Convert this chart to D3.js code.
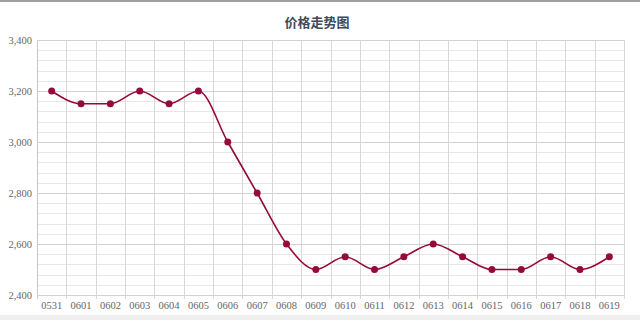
<!DOCTYPE html>
<html>
<head>
<meta charset="utf-8">
<script src="https://cdn.jsdelivr.net/npm/d3@7"></script>
<style>
body { margin: 0; background: #fff; }
svg { display: block; }
</style>
</head>
<body>
<div class="canvas"></div>
<script>
// data
const dates = ['0531','0601','0602','0603','0604','0605','0606','0607','0608','0609',
  '0610','0611','0612','0613','0614','0615','0616','0617','0618','0619'];
const prices = [3200,3150,3150,3200,3150,3200,3000,2800,2600,2500,
  2550,2500,2550,2600,2550,2500,2500,2550,2500,2550];
const yTicks = [2400,2600,2800,3000,3200,3400];
const title = '价格走势图';

const W = 640, H = 320;
const margin = {top: 40, right: 16, bottom: 25, left: 37};
const graphWidth = W - margin.left - margin.right;
const graphHeight = H - margin.top - margin.bottom;

const svg = d3.select('.canvas')
  .append('svg')
  .attr('width', W)
  .attr('height', H);

// frame bits
svg.append('rect').attr('x',0).attr('y',0).attr('width',W).attr('height',2).attr('fill','#a0a0a0');
svg.append('rect').attr('x',0).attr('y',315).attr('width',W).attr('height',5).attr('fill','#efefef');

svg.append('text')
  .attr('x', 317).attr('y', 27)
  .attr('text-anchor','middle')
  .attr('font-family','"Noto Sans CJK SC", sans-serif')
  .attr('font-weight','bold')
  .attr('font-size', 13)
  .attr('fill','#3e4a5a')
  .text(title);

const graph = svg.append('g')
  .attr('transform', `translate(${margin.left},${margin.top})`);

// scales
const x = d3.scaleBand().domain(dates).range([0, graphWidth]);
const y = d3.scaleLinear().domain([2400, 3400]).range([graphHeight, 0]);

// minor grid
const minor = d3.range(2400, 3401, 40);
graph.append('g').selectAll('line')
  .data(minor).enter().append('line')
  .attr('x1',0).attr('x2',graphWidth)
  .attr('y1',d => Math.round(y(d))+0.5).attr('y2',d => Math.round(y(d))+0.5)
  .attr('stroke','#e8e8e8');

// vertical grid
graph.append('g').selectAll('line')
  .data(dates.slice(1).concat(['end'])).enter().append('line')
  .attr('x1',(d,i) => Math.round(x.step()*(i+1))+0.5)
  .attr('x2',(d,i) => Math.round(x.step()*(i+1))+0.5)
  .attr('y1',0).attr('y2',graphHeight+4)
  .attr('stroke','#d8d8d8');

// major grid
graph.append('g').selectAll('line')
  .data(yTicks).enter().append('line')
  .attr('x1',0).attr('x2',graphWidth)
  .attr('y1',d => Math.round(y(d))+0.5).attr('y2',d => Math.round(y(d))+0.5)
  .attr('stroke','#d2d2d2');

// left axis line
graph.append('line')
  .attr('x1',0.5).attr('x2',0.5).attr('y1',0).attr('y2',graphHeight+4)
  .attr('stroke','#c8c8c8');

// axes
const yAxis = d3.axisLeft(y).tickValues(yTicks).tickSize(0).tickPadding(5)
  .tickFormat(d3.format(','));
const yAxisGroup = graph.append('g').call(yAxis);
yAxisGroup.select('.domain').remove();

const xAxis = d3.axisBottom(x).tickSize(0).tickPadding(7);
const xAxisGroup = graph.append('g')
  .attr('transform', `translate(0,${graphHeight})`)
  .call(xAxis);
xAxisGroup.select('.domain').remove();

svg.selectAll('.tick text')
  .attr('font-family','"Liberation Serif", "DejaVu Serif", serif')
  .attr('font-size', 10.5)
  .attr('fill','#666');

// line
const cx = d => x(d) + x.bandwidth()/2;
const line = d3.line()
  .x((d,i) => cx(dates[i]))
  .y(d => y(d))
  .curve(d3.curveMonotoneX);

graph.append('path')
  .datum(prices)
  .attr('fill','none')
  .attr('stroke','#96093b')
  .attr('stroke-width',1.6)
  .attr('d', line);

graph.selectAll('circle')
  .data(prices).enter().append('circle')
  .attr('cx',(d,i) => cx(dates[i]))
  .attr('cy',d => y(d))
  .attr('r',3.5)
  .attr('fill','#96093b');
</script>
</body>
</html>
